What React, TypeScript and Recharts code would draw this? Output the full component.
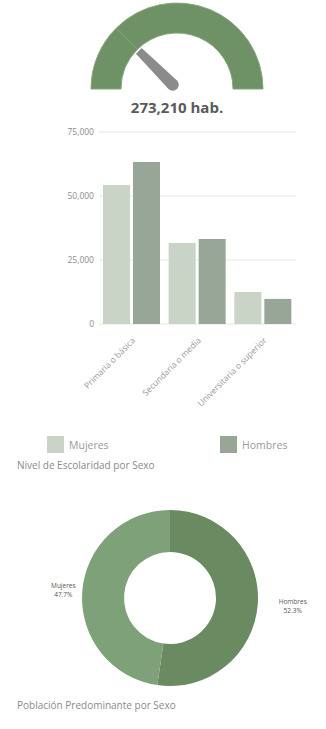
import { Bar, BarChart, CartesianGrid, Cell, Pie, PieChart, XAxis, YAxis } from "recharts";

// gauge
const totalPopulation = 273210;
const gaugeMax = 1092840;
const gaugeParts = [
  { name: "valor", value: totalPopulation },
  { name: "resto", value: gaugeMax - totalPopulation },
];

// schooling by sex
const levels = ["Primaria o básica", "Secundaria o media", "Universitaria o superior"];
const mujeres = [54300, 31600, 12500];
const hombres = [63300, 33200, 9800];
const yTicks = [0, 25000, 50000, 75000];
const barSeries = [
  { key: "mujeres", name: "Mujeres", color: "#c9d3c6" },
  { key: "hombres", name: "Hombres", color: "#98a698" },
];

// predominant sex
const sexNames = ["Hombres", "Mujeres"];
const sexShares = [52.3, 47.7];
const sexColors = ["#6a8a61", "#7ea17a"];

const barData = levels.map((level, i) => ({
  level,
  mujeres: mujeres[i],
  hombres: hombres[i],
}));
const pieData = sexNames.map((name, i) => ({ name, value: sexShares[i] }));

const FONT = "'Open Sans', sans-serif";
const RAD = Math.PI / 180;
const NO_MARGIN = { top: 0, right: 0, bottom: 0, left: 0 };

const Needle = (props: any) => {
  const { cx, cy, innerRadius, percent, index } = props;
  if (index !== 0) return null;
  const angle = (180 - percent * 180) * RAD;
  const len = innerRadius - 2;
  const ux = Math.cos(angle);
  const uy = -Math.sin(angle);
  const px = -uy;
  const py = ux;
  const bx = cx + ux * 6;
  const by = cy + uy * 6;
  const tx = cx + ux * len;
  const ty = cy + uy * len;
  const wb = 6;
  const wt = 4;
  const pts = [
    [bx + px * wb, by + py * wb],
    [tx + px * wt, ty + py * wt],
    [tx - px * wt, ty - py * wt],
    [bx - px * wb, by - py * wb],
  ]
    .map((p) => p.join(","))
    .join(" ");
  return (
    <g>
      <polygon points={pts} fill="#8b8b8b" />
      <circle cx={bx} cy={by} r={wb} fill="#8b8b8b" />
    </g>
  );
};

const LevelTick = ({ x, y, payload }: any) => (
  <text
    x={x + 4}
    y={y + 9}
    transform={`rotate(-45, ${x + 4}, ${y + 9})`}
    textAnchor="end"
    fontSize={8.5}
    fill="#999"
    fontFamily={FONT}
  >
    {payload.value}
  </text>
);

const SexLabel = ({ cx, cy, midAngle, outerRadius, name, value }: any) => {
  const r = outerRadius + 27;
  const x = cx + 8 + r * Math.cos(-midAngle * RAD);
  const y = cy + r * Math.sin(-midAngle * RAD);
  return (
    <text x={x} y={y} textAnchor="middle" fontSize={6.5} fill="#555" fontFamily={FONT}>
      <tspan x={x} dy={-2}>{name}</tspan>
      <tspan x={x} dy={9}>{value}%</tspan>
    </text>
  );
};

export default function App() {
  return (
    <div
      style={{
        position: "absolute",
        top: 0,
        left: 0,
        width: 326,
        height: 729,
        background: "#fff",
        fontFamily: FONT,
        overflow: "hidden",
      }}
    >
      <div style={{ position: "absolute", top: 0, left: 0 }}>
        <PieChart width={326} height={96} margin={NO_MARGIN}>
          <Pie
            data={gaugeParts}
            dataKey="value"
            cx={177}
            cy={89}
            startAngle={180}
            endAngle={0}
            innerRadius={56}
            outerRadius={86}
            stroke="#86a47e"
            strokeWidth={1}
            label={Needle}
            labelLine={false}
            isAnimationActive={false}
          >
            {gaugeParts.map((p) => (
              <Cell key={p.name} fill="#6e9166" />
            ))}
          </Pie>
        </PieChart>
      </div>
      <div
        style={{
          position: "absolute",
          top: 97,
          left: 0,
          width: 354,
          textAlign: "center",
          fontSize: 15,
          fontWeight: 700,
          color: "#5a5a5a",
        }}
      >
        {totalPopulation.toLocaleString("en-US")} hab.
      </div>

      <div style={{ position: "absolute", top: 125, left: 0 }}>
        <BarChart
          width={326}
          height={300}
          data={barData}
          margin={{ top: 7, right: 30, bottom: 1, left: 0 }}
          barCategoryGap={4}
          barGap={3}
        >
          <CartesianGrid vertical={false} stroke="#e6e6e6" />
          <XAxis
            dataKey="level"
            height={100}
            interval={0}
            axisLine={false}
            tickLine={false}
            tick={<LevelTick />}
          />
          <YAxis
            width={99}
            domain={[0, 75000]}
            ticks={yTicks}
            axisLine={false}
            tickLine={false}
            tickSize={0}
            tickMargin={5}
            tick={{ fontSize: 8.5, fill: "#8c8c8c", fontFamily: FONT }}
            tickFormatter={(v: number) => v.toLocaleString("en-US")}
          />
          {barSeries.map((s) => (
            <Bar key={s.key} dataKey={s.key} name={s.name} fill={s.color} isAnimationActive={false} />
          ))}
        </BarChart>
      </div>

      {barSeries.map((s, i) => (
        <div
          key={s.key}
          style={{
            position: "absolute",
            top: 436,
            left: i === 0 ? 47 : 220,
            display: "flex",
            alignItems: "center",
            fontSize: 10.5,
            color: "#9a9a9a",
          }}
        >
          <span style={{ width: 17, height: 17, background: s.color, marginRight: 5 }} />
          {s.name}
        </div>
      ))}
      <div style={{ position: "absolute", top: 458, left: 17, fontSize: 10, color: "#8a8a8a" }}>
        Nivel de Escolaridad por Sexo
      </div>

      <div style={{ position: "absolute", top: 490, left: 0 }}>
        <PieChart width={326} height={215} margin={NO_MARGIN}>
          <Pie
            data={pieData}
            dataKey="value"
            nameKey="name"
            cx={170}
            cy={108}
            startAngle={90}
            endAngle={-270}
            innerRadius={46}
            outerRadius={88}
            stroke="none"
            label={SexLabel}
            labelLine={false}
            isAnimationActive={false}
          >
            {pieData.map((d, i) => (
              <Cell key={d.name} fill={sexColors[i]} />
            ))}
          </Pie>
        </PieChart>
      </div>
      <div style={{ position: "absolute", top: 698, left: 17, fontSize: 10, color: "#8a8a8a" }}>
        Población Predominante por Sexo
      </div>
    </div>
  );
}
